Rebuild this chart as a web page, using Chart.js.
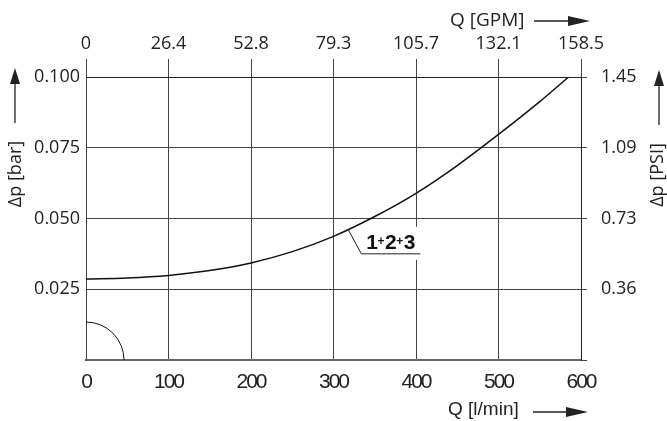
<!DOCTYPE html>
<html>
<head>
<meta charset="utf-8">
<script src="https://cdn.jsdelivr.net/npm/chart.js@4.4.1/dist/chart.umd.min.js"></script>
<style>
  html, body { margin: 0; padding: 0; background: #fff; }
</style>
</head>
<body>
<canvas id="myChart" width="667" height="421"></canvas>
<script>
// pressure drop curve
var flowLpm = [0, 50, 100, 150, 200, 250, 300, 350, 400, 450, 500, 550, 585];
var dpBar   = [0.0286, 0.0290, 0.0299, 0.0316, 0.0343, 0.0383, 0.0437, 0.0507, 0.0589, 0.0687, 0.0797, 0.0913, 0.100];
var barTicks = ['', '0.025', '0.050', '0.075', '0.100'];
var psiTicks = ['', '0.36', '0.73', '1.09', '1.45'];
var gpmTicks = ['0', '26.4', '52.8', '79.3', '105.7', '132.1', '158.5'];
var curveLabel = '1+2+3';

Chart.defaults.font.family = "'Open Sans', 'Noto Sans', sans-serif";
Chart.defaults.color = '#222';

function arrow(ctx, x1, y1, x2, y2, head, half) {
    var a = Math.atan2(y2 - y1, x2 - x1);
    ctx.beginPath();
    ctx.moveTo(x1, y1);
    ctx.lineTo(x2 - Math.cos(a) * head * 0.5, y2 - Math.sin(a) * head * 0.5);
    ctx.stroke();
    ctx.beginPath();
    ctx.moveTo(x2, y2);
    ctx.lineTo(x2 - Math.cos(a) * head - Math.sin(a) * half, y2 - Math.sin(a) * head + Math.cos(a) * half);
    ctx.lineTo(x2 - Math.cos(a) * head + Math.sin(a) * half, y2 - Math.sin(a) * head - Math.cos(a) * half);
    ctx.closePath();
    ctx.fill();
}

var decor = {
    id: 'decor',
    afterDatasetsDraw: function(chart) {
        var ctx = chart.ctx, x = chart.scales.x, y = chart.scales.y;
        ctx.save();
        // quarter circle at origin
        var ox = x.getPixelForValue(0), oy = y.getPixelForValue(0);
        ctx.strokeStyle = '#111';
        ctx.lineWidth = 1;
        ctx.beginPath();
        ctx.arc(ox, oy, 38, -Math.PI / 2, 0);
        ctx.stroke();

        // curve label with leader
        var ax = x.getPixelForValue(318), ay = y.getPixelForValue(0.0460);
        ctx.fillStyle = '#fff';
        ctx.fillRect(ax + 16, ay - 3, 60, 33);
        ctx.strokeStyle = '#222';
        ctx.beginPath();
        ctx.moveTo(ax, ay);
        ctx.lineTo(ax + 13, ay + 24);
        ctx.lineTo(ax + 72, ay + 24);
        ctx.stroke();
        ctx.fillStyle = '#111';
        ctx.textBaseline = 'alphabetic';
        ctx.textAlign = 'left';
        var cx = ax + 18, base = ay + 19;
        curveLabel.split('').forEach(function(ch) {
            if (ch === '+') {
                ctx.font = "bold 12px 'Liberation Sans'";
                var w = ctx.measureText(ch).width;
                ctx.fillText(ch, cx + (8 - w) / 2, base - 4);
                cx += 8;
            } else {
                ctx.font = "bold 21px 'Liberation Sans'";
                ctx.fillText(ch, cx, base);
                cx += ctx.measureText(ch).width - 1;
            }
        });
        ctx.restore();
        // bottom tick labels (drawn next, z=1) are tightly tracked
        ctx.letterSpacing = '-2px';
    },
    afterDraw: function(chart) {
        var ctx = chart.ctx;
        ctx.letterSpacing = '0px';
        ctx.save();
        ctx.fillStyle = '#222';
        ctx.strokeStyle = '#222';
        ctx.lineWidth = 1.3;
        ctx.textBaseline = 'alphabetic';
        ctx.textAlign = 'left';

        ctx.font = "19px 'Open Sans'";
        ctx.fillText('Q [GPM]', 450, 26);
        arrow(ctx, 534, 21, 590, 21, 22, 5);

        ctx.font = "19px 'Liberation Sans'";
        ctx.fillText('Q [l/min]', 448, 415);
        arrow(ctx, 533, 412, 588, 412, 22, 5);

        ctx.font = "18px 'Open Sans'";
        ctx.textAlign = 'center';
        ctx.textBaseline = 'middle';
        ctx.save();
        ctx.translate(16, 174);
        ctx.rotate(-Math.PI / 2);
        ctx.fillText('Δp [bar]', 0, 0);
        ctx.restore();
        arrow(ctx, 15, 123, 15, 68, 16, 5);

        ctx.save();
        ctx.translate(658, 175);
        ctx.rotate(-Math.PI / 2);
        ctx.fillText('Δp [PSI]', 0, 0);
        ctx.restore();
        arrow(ctx, 659, 125, 659, 70, 16, 5);
        ctx.restore();
    }
};

var myChart = new Chart(document.getElementById('myChart'), {
    type: 'line',
    data: {
        datasets: [{
            data: flowLpm.map(function(q, i) { return {x: q, y: dpBar[i]}; }),
            borderColor: '#111',
            borderWidth: 1.5,
            pointRadius: 0,
            cubicInterpolationMode: 'monotone',
            xAxisID: 'x',
            yAxisID: 'y'
        }]
    },
    options: {
        responsive: false,
        devicePixelRatio: 1,
        animation: false,
        layout: { padding: 0 },
        plugins: { legend: { display: false }, tooltip: { enabled: false } },
        scales: {
            x: {
                type: 'linear', position: 'bottom', min: 0, max: 600,
                ticks: { stepSize: 100, padding: 10, color: '#222', z: 1,
                    font: { family: "'Liberation Sans'", size: 21 } },
                grid: { color: '#444', lineWidth: 1, drawTicks: false },
                border: { color: '#666', width: 2 },
                afterFit: function(s) { s.height = 61; }
            },
            xTop: {
                type: 'linear', position: 'top', min: 0, max: 600,
                ticks: { stepSize: 100, padding: 4, font: { size: 18 },
                    callback: function(v, i) { return gpmTicks[i]; } },
                grid: { drawOnChartArea: false, tickLength: 18, color: '#444' },
                border: { color: '#222' },
                afterFit: function(s) { s.height = 77; }
            },
            y: {
                type: 'linear', position: 'left', min: 0, max: 0.1,
                ticks: { stepSize: 0.025, padding: 6, font: { size: 18 },
                    callback: function(v, i) { return barTicks[i]; } },
                grid: { color: '#444', drawTicks: false },
                border: { color: '#444' },
                afterFit: function(s) { s.width = 86; }
            },
            yPsi: {
                type: 'linear', position: 'right', min: 0, max: 0.1,
                ticks: { stepSize: 0.025, padding: 14, font: { size: 18 },
                    callback: function(v, i) { return psiTicks[i]; } },
                grid: { drawOnChartArea: false, tickLength: 6, color: '#444' },
                border: { color: '#222' },
                afterFit: function(s) { s.width = 86; }
            }
        }
    },
    plugins: [decor]
});
</script>
</body>
</html>
